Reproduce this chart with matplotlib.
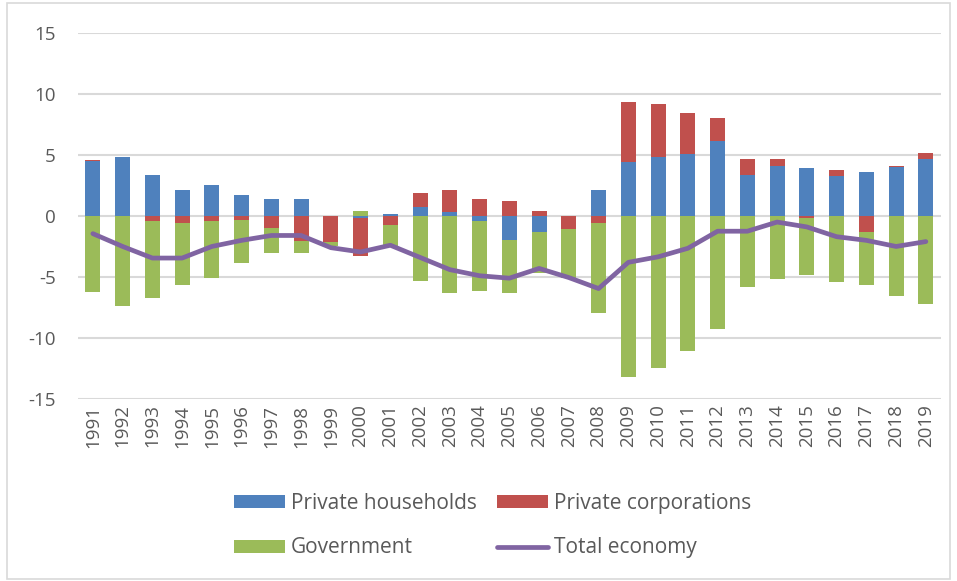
import numpy as np
import matplotlib
matplotlib.use('Agg')
import matplotlib.pyplot as plt
from matplotlib.patches import Rectangle

plt.rcParams['font.family'] = ['Open Sans', 'DejaVu Sans']
plt.rcParams['axes.unicode_minus'] = False

years = [str(y) for y in range(1991, 2020)]

# Finanzierungssaldo nach Sektoren (in % BIP)
households = [4.5, 4.85, 3.35, 2.1, 2.5, 1.7, 1.4, 1.4, 0.0, -0.15,
              0.2, 0.7, 0.3, -0.45, -1.95, -1.3, 0.0, 2.1, 4.45, 4.85,
              5.1, 6.15, 3.35, 4.1, 3.9, 3.3, 3.6, 4.0, 4.65]
corporations = [0.12, 0.0, -0.45, -0.6, -0.45, -0.3, -1.0, -2.05, -2.15, -3.15,
                -0.75, 1.2, 1.8, 1.35, 1.25, 0.4, -1.05, -0.55, 4.85, 4.35,
                3.3, 1.9, 1.3, 0.6, -0.15, 0.45, -1.3, 0.1, 0.5]
government = [-6.2, -7.35, -6.25, -5.05, -4.65, -3.55, -2.0, -0.95, -0.35, 0.38,
              -1.75, -5.3, -6.35, -5.7, -4.4, -3.4, -4.0, -7.4, -13.2, -12.45,
              -11.05, -9.25, -5.85, -5.2, -4.65, -5.4, -4.35, -6.55, -7.2]
total = [-1.45, -2.5, -3.45, -3.45, -2.5, -2.0, -1.6, -1.6, -2.6, -2.95,
         -2.4, -3.4, -4.4, -4.9, -5.1, -4.3, -5.05, -5.95, -3.8, -3.35,
         -2.65, -1.25, -1.25, -0.5, -0.9, -1.7, -2.0, -2.5, -2.1]

blau = '#4F81BD'
rot = '#C0504D'
gruen = '#9BBB59'
lila = '#8064A2'
grau = '#595959'


def stapel(series):
    '''Excel-artiges Stapeln: positive Werte nach oben, negative nach unten'''
    pos = np.zeros(len(series[0]))
    neg = np.zeros(len(series[0]))
    out = []
    for s in series:
        s = np.array(s, dtype=float)
        bottom = np.where(s >= 0, pos, neg)
        out.append(bottom)
        pos = pos + np.where(s >= 0, s, 0)
        neg = neg + np.where(s < 0, s, 0)
    return out


fig = plt.figure(figsize=(9.57, 5.81), dpi=100)
fig.patches.append(Rectangle((7 / 957, 2 / 581), 943 / 957, 576 / 581, transform=fig.transFigure,
                             fill=False, edgecolor='#D9D9D9', linewidth=1.2))
ax = fig.add_axes([0.0815, 0.3133, 0.9015, 0.63])

x = np.arange(len(years))
b_hh, b_co, b_gov = stapel([households, corporations, government])
w = 0.5
h1 = ax.bar(x, households, w, bottom=b_hh, color=blau, label='Private households', zorder=2)
h2 = ax.bar(x, corporations, w, bottom=b_co, color=rot, label='Private corporations', zorder=2)
h3 = ax.bar(x, government, w, bottom=b_gov, color=gruen, label='Government', zorder=2)
h4, = ax.plot(x, total, color=lila, linewidth=3.4, solid_joinstyle='round',
              solid_capstyle='round', label='Total economy', zorder=3)

ax.set_xlim(-0.5, len(years) - 0.5)
ax.set_ylim(-15, 15)
ax.set_yticks(np.arange(-15, 16, 5))
ax.set_xticks(x)
ax.set_xticklabels(years, rotation=90)
ax.tick_params(axis='both', length=0, labelsize=13.5, colors=grau)
ax.tick_params(axis='y', pad=16)
ax.tick_params(axis='x', pad=4)
ax.grid(axis='y', color='#D9D9D9', linewidth=1.5, zorder=0)
ax.set_axisbelow(True)
for s in ax.spines.values():
    s.set_visible(False)

fig.legend([h1, h3, h2, h4],
           ['Private households', 'Government', 'Private corporations', 'Total economy'],
           ncol=2, loc='center', bbox_to_anchor=(0.5146, 0.0955), frameon=False,
           fontsize=15, labelcolor=grau, handlelength=2.45, handleheight=0.6,
           handletextpad=0.3, columnspacing=0.95, labelspacing=1.15)

fig.savefig('out.png', dpi=100)
